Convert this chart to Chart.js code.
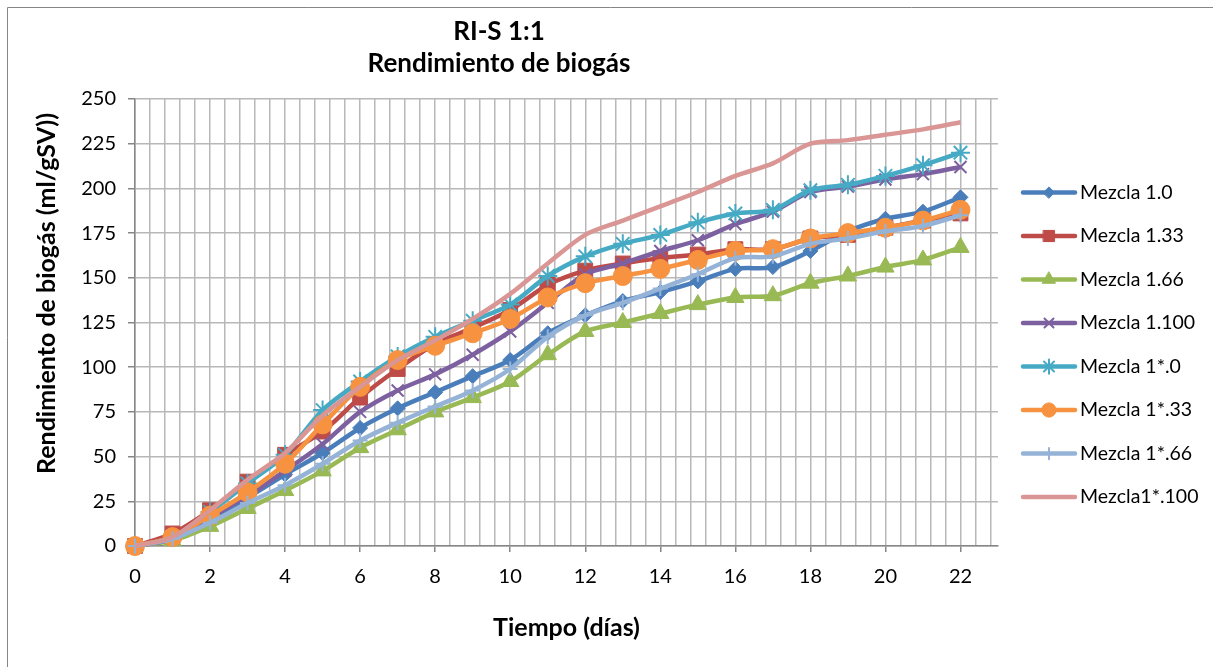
<!DOCTYPE html>
<html lang="es">
<head>
<meta charset="utf-8">
<title>RI-S 1:1 Rendimiento de biogás</title>
<script src="https://cdn.jsdelivr.net/npm/chart.js@4.4.1/dist/chart.umd.min.js"></script>
<style>
    html, body { margin: 0; padding: 0; background: #fff; }
    canvas { display: block; }
</style>
</head>
<body>
<canvas id="grafico" width="1213" height="667"></canvas>
<script>
// datos (ml/gSV por dia)
const dias = [0, 1, 2, 3, 4, 5, 6, 7, 8, 9, 10, 11, 12, 13, 14, 15, 16, 17, 18, 19, 20, 21, 22];

const mezcla1_0   = [0, 4, 15, 27, 40, 52, 66, 77, 86, 95, 104, 119, 129, 137, 142, 148, 155, 156, 165, 176, 183, 187, 195];
const mezcla1_33  = [0, 7, 20, 36, 51, 64, 83, 99, 113, 122, 132, 146, 154, 158, 161, 163, 166, 166, 172, 174, 178, 182, 186];
const mezcla1_66  = [0, 3, 11, 21, 31, 42, 55, 65, 75, 83, 92, 107, 120, 125, 130, 135, 139, 140, 147, 151, 156, 160, 167];
const mezcla1_100 = [0, 4, 16, 28, 42, 57, 75, 87, 96, 107, 120, 136, 152, 158, 165, 171, 180, 187, 198, 201, 205, 208, 212];
const mezclaB_0   = [0, 5, 19, 35, 51, 76, 92, 106, 117, 126, 135, 151, 162, 169, 174, 181, 186, 188, 199, 202, 207, 213, 220];
const mezclaB_33  = [0, 5, 17, 30, 46, 68, 89, 104, 112, 119, 127, 139, 147, 151, 155, 160, 165, 166, 172, 175, 178, 182, 188];
const mezclaB_66  = [0, 4, 13, 24, 34, 46, 59, 69, 78, 87, 99, 117, 129, 136, 144, 152, 161, 162, 169, 172, 176, 179, 185];
const mezclaB_100 = [0, 5, 20, 37, 52, 73, 89, 104, 115, 127, 141, 158, 174, 182, 190, 198, 207, 214, 225, 227, 230, 233, 237];

const nombres = ["Mezcla 1.0", "Mezcla 1.33", "Mezcla 1.66", "Mezcla 1.100",
                 "Mezcla 1*.0", "Mezcla 1*.33", "Mezcla 1*.66", "Mezcla1*.100"];
const valores = [mezcla1_0, mezcla1_33, mezcla1_66, mezcla1_100,
                 mezclaB_0, mezclaB_33, mezclaB_66, mezclaB_100];

const yTicks = [0, 25, 50, 75, 100, 125, 150, 175, 200, 225, 250];
const xTickLabels = [0, 2, 4, 6, 8, 10, 12, 14, 16, 18, 20, 22];

// estilo de cada serie: color, marcador, radio
const colores = ["#4a7ebb", "#be4b48", "#98b954", "#7d60a0", "#46aac5", "#f69240", "#95b3d7", "#d99694"];
const marcadores = ["rectRot", "rect", "triangle", "crossRot", "star", "circle", "cross", false];
const radios = [7.5, 10.5, 10, 8.5, 9.5, 9.5, 7.5, 0];

const FUENTE = "Lato, 'Open Sans', sans-serif";
const GRIS_EJE = "#868686";
const GRIS_REJILLA = "#b8b8b8";

const esMayor = (v) => Math.abs(v / 2 - Math.round(v / 2)) < 1e-6;
const esTrazo = (m) => m === "crossRot" || m === "star" || m === "cross";

let datasets = nombres.map((nombre, i) => ({
    label: nombre,
    data: dias.map((d, k) => ({ x: d, y: valores[i][k] })),
    borderColor: colores[i],
    backgroundColor: colores[i],
    borderWidth: 4.5,
    tension: 0.3,
    clip: false,
    pointStyle: marcadores[i],
    pointRadius: radios[i],
    pointBorderWidth: esTrazo(marcadores[i]) ? 2 : 1,
    pointBackgroundColor: colores[i],
    pointBorderColor: colores[i],
    order: nombres.length - 1 - i
}));

// leyenda, titulo del eje y y marco dibujados a mano
const decorado = {
    id: "decorado",
    afterDraw(chart) {
        const ctx = chart.ctx;
        ctx.save();

        ctx.strokeStyle = GRIS_EJE;
        ctx.lineWidth = 1;
        ctx.beginPath();
        ctx.moveTo(7.5, 667);
        ctx.lineTo(7.5, 7.5);
        ctx.lineTo(1213, 7.5);
        ctx.stroke();

        ctx.fillStyle = "#000";
        ctx.font = "bold 25px " + FUENTE;
        ctx.textAlign = "center";
        ctx.textBaseline = "middle";
        ctx.translate(47, 293.5);
        ctx.rotate(-Math.PI / 2);
        ctx.fillText("Rendimiento de biogás (ml/gSV))", 0, 0);
        ctx.restore();

        ctx.save();
        chart.data.datasets.forEach((ds, i) => {
            const y = 192.5 + 43.5 * i;
            ctx.strokeStyle = ds.borderColor;
            ctx.lineWidth = 4.5;
            ctx.lineCap = "round";
            ctx.beginPath();
            ctx.moveTo(1023, y);
            ctx.lineTo(1075, y);
            ctx.stroke();
            if (ds.pointStyle) {
                ctx.fillStyle = ds.pointBackgroundColor;
                ctx.strokeStyle = ds.pointBorderColor;
                ctx.lineWidth = ds.pointBorderWidth;
                Chart.helpers.drawPoint(ctx, {
                    pointStyle: ds.pointStyle,
                    radius: ds.pointRadius * 0.75,
                    rotation: 0,
                    borderWidth: ds.pointBorderWidth
                }, 1049, y);
            }
            ctx.fillStyle = "#000";
            ctx.font = "19.5px " + FUENTE;
            ctx.textAlign = "left";
            ctx.textBaseline = "middle";
            ctx.fillText(ds.label, 1080, y);
        });
        ctx.restore();
    }
};

new Chart(document.getElementById("grafico"), {
    type: "line",
    data: { datasets: datasets },
    plugins: [decorado],
    options: {
        responsive: false,
        animation: false,
        devicePixelRatio: 1,
        layout: { padding: { left: 0, right: 215, top: 0, bottom: 0 } },
        plugins: {
            legend: { display: false },
            tooltip: { enabled: false },
            title: {
                display: true,
                text: ["RI-S 1:1", "Rendimiento de biogás"],
                color: "#000",
                font: { family: FUENTE, size: 26, weight: "bold", lineHeight: 1.25 },
                padding: { top: 15, bottom: 19 }
            }
        },
        scales: {
            x: {
                type: "linear",
                min: 0,
                max: 23,
                afterFit: (scale) => { scale.height = 121; },
                ticks: {
                    stepSize: 0.4,
                    autoSkip: false,
                    includeBounds: false,
                    maxRotation: 0,
                    padding: 13,
                    color: "#000",
                    font: { family: FUENTE, size: 20 },
                    callback: (v) => esMayor(v) && xTickLabels.includes(Math.round(v)) ? String(Math.round(v)) : ""
                },
                grid: {
                    color: GRIS_REJILLA,
                    lineWidth: 1.5,
                    tickLength: 6,
                    tickColor: (c) => (c.tick && esMayor(c.tick.value)) ? GRIS_EJE : "rgba(0,0,0,0)"
                },
                border: { color: GRIS_EJE, width: 1.5 },
                title: {
                    display: true,
                    text: "Tiempo (días)",
                    color: "#000",
                    font: { family: FUENTE, size: 25, weight: "bold" },
                    padding: { top: 0, bottom: 24 }
                }
            },
            y: {
                min: yTicks[0],
                max: yTicks[yTicks.length - 1],
                afterFit: (scale) => { scale.width = 135; },
                afterBuildTicks: (scale) => { scale.ticks = yTicks.map((v) => ({ value: v })); },
                ticks: {
                    padding: 12,
                    color: "#000",
                    font: { family: FUENTE, size: 20 }
                },
                grid: {
                    color: GRIS_REJILLA,
                    lineWidth: 1.5,
                    tickLength: 7,
                    tickColor: GRIS_EJE
                },
                border: { color: GRIS_EJE, width: 1.5 }
            }
        }
    }
});
</script>
</body>
</html>
